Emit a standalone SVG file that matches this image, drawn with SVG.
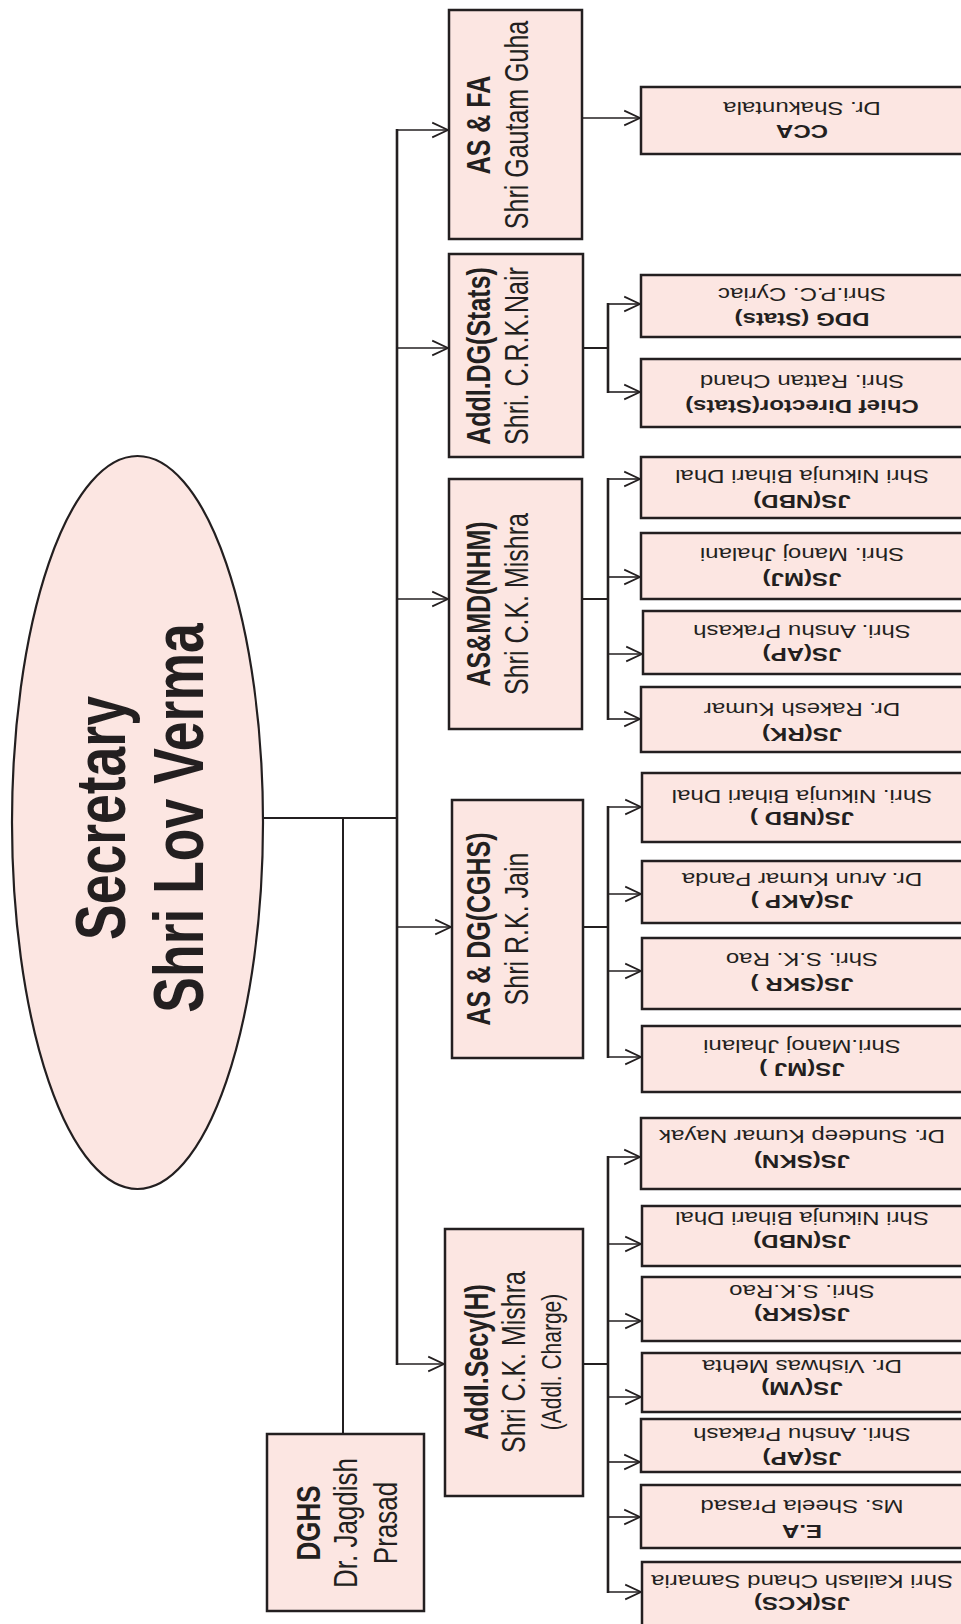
<svg xmlns="http://www.w3.org/2000/svg" width="961" height="1624" viewBox="0 0 961 1624">
<defs>
<style>
.bx{fill:#fce6e2;stroke:#231f20;stroke-width:2.5}
.el{fill:#fce6e2;stroke:#231f20;stroke-width:2.2}
.t{font-family:"Liberation Sans",Arial,sans-serif;fill:#231f20;text-anchor:middle}
.b{font-weight:bold}
.lf{font-size:18.5px}
.l1{font-size:25px}
.ln{stroke:#231f20;fill:none;stroke-width:2}
.tk{stroke:#231f20;fill:none;stroke-width:2.6}
.ar{stroke:#231f20;fill:none;stroke-width:1.6;marker-end:url(#ah)}
</style>
<marker id="ah" markerUnits="userSpaceOnUse" markerWidth="20" markerHeight="20" refX="0" refY="0" viewBox="-17 -9 19 18" orient="auto">
<path d="M-15,-7 L0,0 L-15,7" fill="none" stroke="#231f20" stroke-width="1.6"/>
</marker>
</defs>
<rect width="961" height="1624" fill="#ffffff"/>

<g id="connectors">
<line class="ln" x1="263" y1="818" x2="397" y2="818"/>
<line class="ln" x1="343" y1="818" x2="343" y2="1434"/>
<line class="tk" x1="397" y1="129" x2="397" y2="1365"/>
<line class="ar" x1="396" y1="130" x2="448" y2="130"/>
<line class="ar" x1="396" y1="348" x2="448" y2="348"/>
<line class="ar" x1="396" y1="599" x2="448" y2="599"/>
<line class="ar" x1="396" y1="927" x2="451" y2="927"/>
<line class="ar" x1="396" y1="1364" x2="444" y2="1364"/>
<!-- AS & FA -->
<line class="ar" x1="582" y1="118" x2="640" y2="118"/>
<!-- Addl.DG(Stats) -->
<line class="ln" x1="583" y1="348" x2="608" y2="348"/>
<line class="tk" x1="608" y1="303" x2="608" y2="393"/>
<line class="ar" x1="608" y1="304" x2="640" y2="304"/>
<line class="ar" x1="608" y1="392" x2="640" y2="392"/>
<!-- AS&MD(NHM) -->
<line class="ln" x1="582" y1="599" x2="608" y2="599"/>
<line class="tk" x1="608" y1="478" x2="608" y2="720"/>
<line class="ar" x1="608" y1="479" x2="640" y2="479"/>
<line class="ar" x1="608" y1="577" x2="640" y2="577"/>
<line class="ar" x1="608" y1="654" x2="642" y2="654"/>
<line class="ar" x1="608" y1="719" x2="640" y2="719"/>
<!-- AS & DG(CGHS) -->
<line class="ln" x1="583" y1="927" x2="608" y2="927"/>
<line class="tk" x1="608" y1="806" x2="608" y2="1058"/>
<line class="ar" x1="608" y1="807" x2="641" y2="807"/>
<line class="ar" x1="608" y1="894" x2="641" y2="894"/>
<line class="ar" x1="608" y1="971" x2="641" y2="971"/>
<line class="ar" x1="608" y1="1057" x2="641" y2="1057"/>
<!-- Addl.Secy(H) -->
<line class="ln" x1="583" y1="1364" x2="608" y2="1364"/>
<line class="tk" x1="608" y1="1156" x2="608" y2="1593"/>
<line class="ar" x1="608" y1="1157" x2="640" y2="1157"/>
<line class="ar" x1="608" y1="1244" x2="641" y2="1244"/>
<line class="ar" x1="608" y1="1321" x2="641" y2="1321"/>
<line class="ar" x1="608" y1="1397" x2="641" y2="1397"/>
<line class="ar" x1="608" y1="1462" x2="640" y2="1462"/>
<line class="ar" x1="608" y1="1517" x2="640" y2="1517"/>
<line class="ar" x1="608" y1="1592" x2="641" y2="1592"/>
</g>

<g id="secretary">
<ellipse class="el" cx="137.5" cy="822.5" rx="125.5" ry="366.5"/>
<g transform="translate(125,818) scale(1.3,1) rotate(-90)">
<text class="t b" x="0" y="0" font-size="53.5">Secretary</text>
<text class="t b" x="0" y="60" font-size="53.5">Shri Lov Verma</text>
</g>
</g>

<g id="dghs">
<rect class="bx" x="267" y="1434" width="157" height="177"/>
<g transform="translate(320,1523) scale(1.3,1) rotate(-90)">
<text class="t b" x="0" y="0" font-size="26">DGHS</text>
<text class="t" x="0" y="28.5" font-size="26">Dr. Jagdish</text>
<text class="t" x="0" y="59" font-size="26">Prasad</text>
</g>
</g>

<g id="as-fa">
<rect class="bx" x="449" y="10" width="133" height="229"/>
<g transform="translate(490,125) scale(1.3,1) rotate(-90)">
<text class="t b l1" x="0" y="0">AS &amp; FA</text>
<text class="t l1" x="0" y="29.2">Shri Gautam Guha</text>
</g>
</g>

<g id="addl-dg-stats">
<rect class="bx" x="449" y="254" width="134" height="203"/>
<g transform="translate(490,356) scale(1.3,1) rotate(-90)">
<text class="t b l1" x="0" y="0">Addl.DG(Stats)</text>
<text class="t l1" x="0" y="29.2">Shri. C.R.K.Nair</text>
</g>
</g>

<g id="as-md-nhm">
<rect class="bx" x="449" y="479" width="133" height="250"/>
<g transform="translate(490,604) scale(1.3,1) rotate(-90)">
<text class="t b l1" x="0" y="0">AS&amp;MD(NHM)</text>
<text class="t l1" x="0" y="29.2">Shri C.K. Mishra</text>
</g>
</g>

<g id="as-dg-cghs">
<rect class="bx" x="452" y="800" width="131" height="258"/>
<g transform="translate(490,929) scale(1.3,1) rotate(-90)">
<text class="t b l1" x="0" y="0">AS &amp; DG(CGHS)</text>
<text class="t l1" x="0" y="29.2">Shri R.K. Jain</text>
</g>
</g>

<g id="addl-secy-h">
<rect class="bx" x="445" y="1229" width="138" height="267"/>
<g transform="translate(488,1362) scale(1.3,1) rotate(-90)">
<text class="t b l1" x="0" y="0">Addl.Secy(H)</text>
<text class="t l1" x="0" y="28.5">Shri C.K. Mishra</text>
<text class="t" x="0" y="56.5" font-size="21">(Addl. Charge)</text>
</g>
</g>

<g id="cca">
<rect class="bx" x="641" y="87" width="323" height="67"/>
<g transform="translate(802,125) scale(1.3,1) rotate(180)">
<text class="t b lf" x="0" y="0">CCA</text>
<text class="t lf" x="0" y="23">Dr. Shakuntala</text>
</g>
</g>

<g id="ddg-stats">
<rect class="bx" x="641" y="275" width="323" height="62"/>
<g transform="translate(802,313) scale(1.3,1) rotate(180)">
<text class="t b lf" x="0" y="0">DDG (Stats)</text>
<text class="t lf" x="0" y="25">Shri.P.C. Cyriac</text>
</g>
</g>

<g id="chief-director-stats">
<rect class="bx" x="641" y="359" width="323" height="68"/>
<g transform="translate(802,400) scale(1.3,1) rotate(180)">
<text class="t b lf" x="0" y="0">Chief Director(Stats)</text>
<text class="t lf" x="0" y="25">Shri. Rattan Chand</text>
</g>
</g>

<g id="nhm-js-nbd">
<rect class="bx" x="641" y="457" width="323" height="61"/>
<g transform="translate(802,495) scale(1.3,1) rotate(180)">
<text class="t b lf" x="0" y="0">JS(NBD)</text>
<text class="t lf" x="0" y="25">Shri Nikunja Bihari Dhal</text>
</g>
</g>

<g id="nhm-js-mj">
<rect class="bx" x="641" y="533" width="323" height="66"/>
<g transform="translate(802,573) scale(1.3,1) rotate(180)">
<text class="t b lf" x="0" y="0">JS(MJ)</text>
<text class="t lf" x="0" y="25">Shri. Manoj Jhalani</text>
</g>
</g>

<g id="nhm-js-ap">
<rect class="bx" x="643" y="611" width="321" height="63"/>
<g transform="translate(802,648) scale(1.3,1) rotate(180)">
<text class="t b lf" x="0" y="0">JS(AP)</text>
<text class="t lf" x="0" y="23">Shri. Anshu Prakash</text>
</g>
</g>

<g id="nhm-js-rk">
<rect class="bx" x="641" y="687" width="323" height="65"/>
<g transform="translate(802,728) scale(1.3,1) rotate(180)">
<text class="t b lf" x="0" y="0">JS(RK)</text>
<text class="t lf" x="0" y="25">Dr. Rakesh Kumar</text>
</g>
</g>

<g id="cghs-js-nbd">
<rect class="bx" x="642" y="773" width="322" height="69"/>
<g transform="translate(802,812) scale(1.3,1) rotate(180)">
<text class="t b lf" x="0" y="0">JS(NBD )</text>
<text class="t lf" x="0" y="22">Shri. Nikunja Bihari Dhal</text>
</g>
</g>

<g id="cghs-js-akp">
<rect class="bx" x="642" y="861" width="322" height="62"/>
<g transform="translate(802,895) scale(1.3,1) rotate(180)">
<text class="t b lf" x="0" y="0">JS(AKP )</text>
<text class="t lf" x="0" y="22">Dr. Arun Kumar Panda</text>
</g>
</g>

<g id="cghs-js-skr">
<rect class="bx" x="642" y="938" width="322" height="71"/>
<g transform="translate(802,978) scale(1.3,1) rotate(180)">
<text class="t b lf" x="0" y="0">JS(SKR )</text>
<text class="t lf" x="0" y="25">Shri. S.K. Rao</text>
</g>
</g>

<g id="cghs-js-mj">
<rect class="bx" x="642" y="1026" width="322" height="66"/>
<g transform="translate(802,1063) scale(1.3,1) rotate(180)">
<text class="t b lf" x="0" y="0">JS(MJ )</text>
<text class="t lf" x="0" y="23">Shri.Manoj Jhalani</text>
</g>
</g>

<g id="h-js-skn">
<rect class="bx" x="641" y="1118" width="323" height="71"/>
<g transform="translate(802,1155) scale(1.3,1) rotate(180)">
<text class="t b lf" x="0" y="0">JS(SKN)</text>
<text class="t lf" x="0" y="25">Dr. Sundeep Kumar Nayak</text>
</g>
</g>

<g id="h-js-nbd">
<rect class="bx" x="642" y="1206" width="322" height="60"/>
<g transform="translate(802,1235) scale(1.3,1) rotate(180)">
<text class="t b lf" x="0" y="0">JS(NBD)</text>
<text class="t lf" x="0" y="23">Shri Nikunja Bihari Dhal</text>
</g>
</g>

<g id="h-js-skr">
<rect class="bx" x="642" y="1277" width="322" height="64"/>
<g transform="translate(802,1308) scale(1.3,1) rotate(180)">
<text class="t b lf" x="0" y="0">JS(SKR)</text>
<text class="t lf" x="0" y="23">Shri. S.K.Rao</text>
</g>
</g>

<g id="h-js-vm">
<rect class="bx" x="642" y="1353" width="322" height="59"/>
<g transform="translate(802,1382) scale(1.3,1) rotate(180)">
<text class="t b lf" x="0" y="0">JS(VM)</text>
<text class="t lf" x="0" y="22">Dr. Vishwas Mehta</text>
</g>
</g>

<g id="h-js-ap">
<rect class="bx" x="641" y="1419" width="323" height="53"/>
<g transform="translate(802,1452) scale(1.3,1) rotate(180)">
<text class="t b lf" x="0" y="0">JS(AP)</text>
<text class="t lf" x="0" y="24">Shri. Anshu Prakash</text>
</g>
</g>

<g id="h-ea">
<rect class="bx" x="641" y="1485" width="323" height="63"/>
<g transform="translate(802,1525) scale(1.3,1) rotate(180)">
<text class="t b lf" x="0" y="0">E.A</text>
<text class="t lf" x="0" y="25">Ms. Sheela Prasad</text>
</g>
</g>

<g id="h-js-kcs">
<rect class="bx" x="642" y="1562" width="322" height="80"/>
<g transform="translate(802,1597) scale(1.3,1) rotate(180)">
<text class="t b lf" x="0" y="0">JS(KCS)</text>
<text class="t lf" x="0" y="22">Shri Kailash Chand Samaria</text>
</g>
</g>
</svg>
